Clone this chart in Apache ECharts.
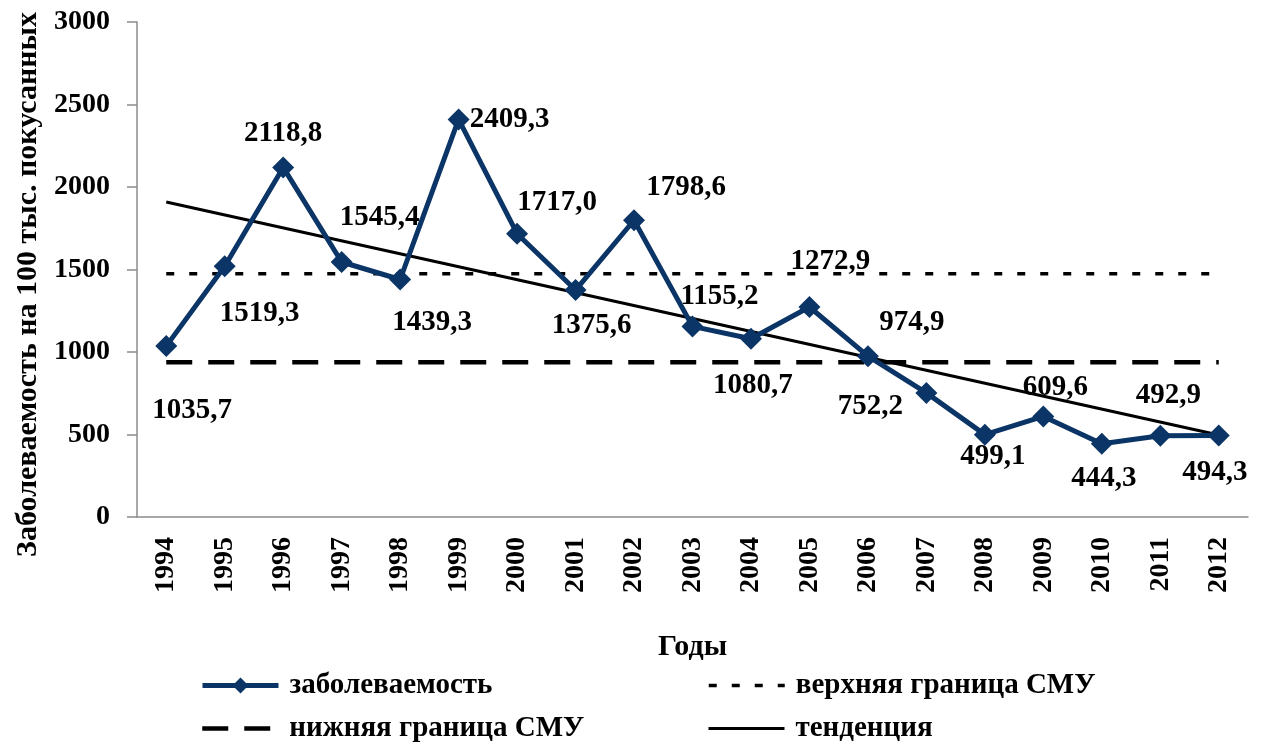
<!DOCTYPE html>
<html>
<head>
    <meta charset="utf-8">
    <title>Заболеваемость</title>
    <script type="text/javascript" src="https://cdn.jsdelivr.net/npm/echarts@6/dist/echarts.min.js"></script>
    <style>
        html, body { margin: 0; padding: 0; background: #fff; }
    </style>
</head>
<body>
    <div id="main" style="width: 1268px;height:747px;"></div>

    <script type="text/javascript">
        // данные
        var years = ['1994', '1995', '1996', '1997', '1998', '1999', '2000', '2001', '2002', '2003',
                     '2004', '2005', '2006', '2007', '2008', '2009', '2010', '2011', '2012'];
        var incidence = [1035.7, 1519.3, 2118.8, 1545.4, 1439.3, 2409.3, 1717.0, 1375.6, 1798.6, 1155.2,
                         1080.7, 1272.9, 974.9, 752.2, 499.1, 609.6, 444.3, 492.9, 494.3];
        var upperBound = [1475, null, null, null, null, null, null, null, null, null,
                          null, null, null, null, null, null, null, null, 1475];
        var lowerBound = [938, null, null, null, null, null, null, null, null, null,
                          null, null, null, null, null, null, null, null, 938];
        var trend = [1909, null, null, null, null, null, null, null, null, null,
                     null, null, null, null, null, null, null, null, 497];

        // смещения подписей относительно точек
        var labelOffsets = [[26, 64], [35, 47], [0, -34], [38, -44], [32, 43], [51, 0], [40, -31], [16, 35],
                            [52, -33], [27, -30], [2, 47], [21, -45], [44, -34], [-56, 14], [8, 22],
                            [12, -29], [2, 35], [8, -40], [-4, 37]];

        var FONT = "'Liberation Serif', 'Times New Roman', serif";
        var NAVY = '#0b3566';

        var myChart = echarts.init(document.getElementById('main'));

        var incData = incidence.map(function (v, i) {
            return {
                value: v,
                label: { offset: labelOffsets[i] }
            };
        });

        function legendItem(name, left, top, lineStyle, hideSymbol) {
            return {
                data: [name],
                left: left,
                top: top,
                itemWidth: 76,
                itemHeight: 20,
                itemGap: 0,
                padding: 0,
                lineStyle: lineStyle,
                itemStyle: hideSymbol ? { opacity: 0 } : {},
                textStyle: { fontFamily: FONT, fontWeight: 'bold', fontSize: 29, color: '#000', padding: [0, 0, 0, 6] }
            };
        }

        myChart.setOption({
            animation: false,
            grid: { left: 137, right: 20, top: 22, bottom: 230, containLabel: false, outerBoundsMode: 'none' },
            legend: [
                legendItem('заболеваемость', 200, 671, { width: 5 }, false),
                legendItem('верхняя граница СМУ', 707, 671, { width: 3.5, type: [8, 15] }, true),
                legendItem('нижняя граница СМУ', 200, 714, { width: 4.5, type: [26, 16] }, true),
                legendItem('тенденция', 707, 714, { width: 3 }, true)
            ],
            xAxis: {
                type: 'category',
                data: years,
                boundaryGap: true,
                name: 'Годы',
                nameLocation: 'middle',
                nameGap: 115,
                nameTextStyle: { fontFamily: FONT, fontWeight: 'bold', fontSize: 30, color: '#000' },
                axisLine: { lineStyle: { color: '#8c8c8c', width: 1.5 } },
                axisTick: { length: 10, lineStyle: { color: '#8c8c8c', width: 1.5 } },
                axisLabel: {
                    rotate: 90, margin: 20, interval: 0,
                    fontFamily: FONT, fontWeight: 'bold', fontSize: 28, color: '#000'
                }
            },
            yAxis: {
                type: 'value',
                min: 0, max: 3000, interval: 500,
                name: 'Заболеваемость на 100 тыс. покусанных',
                nameLocation: 'middle',
                nameGap: 94,
                nameRotate: 90,
                nameTextStyle: { fontFamily: FONT, fontWeight: 'bold', fontSize: 30, color: '#000', padding: [0, 30, 0, 0] },
                splitLine: { show: false },
                axisLine: { show: true, lineStyle: { color: '#8c8c8c', width: 1.5 } },
                axisTick: { show: true, length: 10, lineStyle: { color: '#8c8c8c', width: 1.5 } },
                axisLabel: {
                    margin: 27,
                    fontFamily: FONT, fontWeight: 'bold', fontSize: 28, color: '#000',
                    formatter: function (v) { return String(v); }
                }
            },
            series: [
                {
                    name: 'заболеваемость',
                    type: 'line',
                    data: incData,
                    z: 5,
                    symbol: 'diamond',
                    symbolSize: 22,
                    itemStyle: { color: NAVY },
                    lineStyle: { color: NAVY, width: 5 },
                    label: {
                        show: true,
                        position: 'inside',
                        align: 'center',
                        verticalAlign: 'middle',
                        fontFamily: FONT, fontWeight: 'bold', fontSize: 29, color: '#000',
                        formatter: function (p) { return p.value.toFixed(1).replace('.', ','); }
                    }
                },
                {
                    name: 'верхняя граница СМУ',
                    type: 'line',
                    data: upperBound,
                    connectNulls: true,
                    symbol: 'none',
                    itemStyle: { color: '#000' },
                    lineStyle: { color: '#000', width: 3.5, type: [8, 15] }
                },
                {
                    name: 'нижняя граница СМУ',
                    type: 'line',
                    data: lowerBound,
                    connectNulls: true,
                    symbol: 'none',
                    itemStyle: { color: '#000' },
                    lineStyle: { color: '#000', width: 4.5, type: [26, 16] }
                },
                {
                    name: 'тенденция',
                    type: 'line',
                    data: trend,
                    connectNulls: true,
                    symbol: 'none',
                    itemStyle: { color: '#000' },
                    lineStyle: { color: '#000', width: 3 }
                }
            ]
        });
    </script>
</body>
</html>
